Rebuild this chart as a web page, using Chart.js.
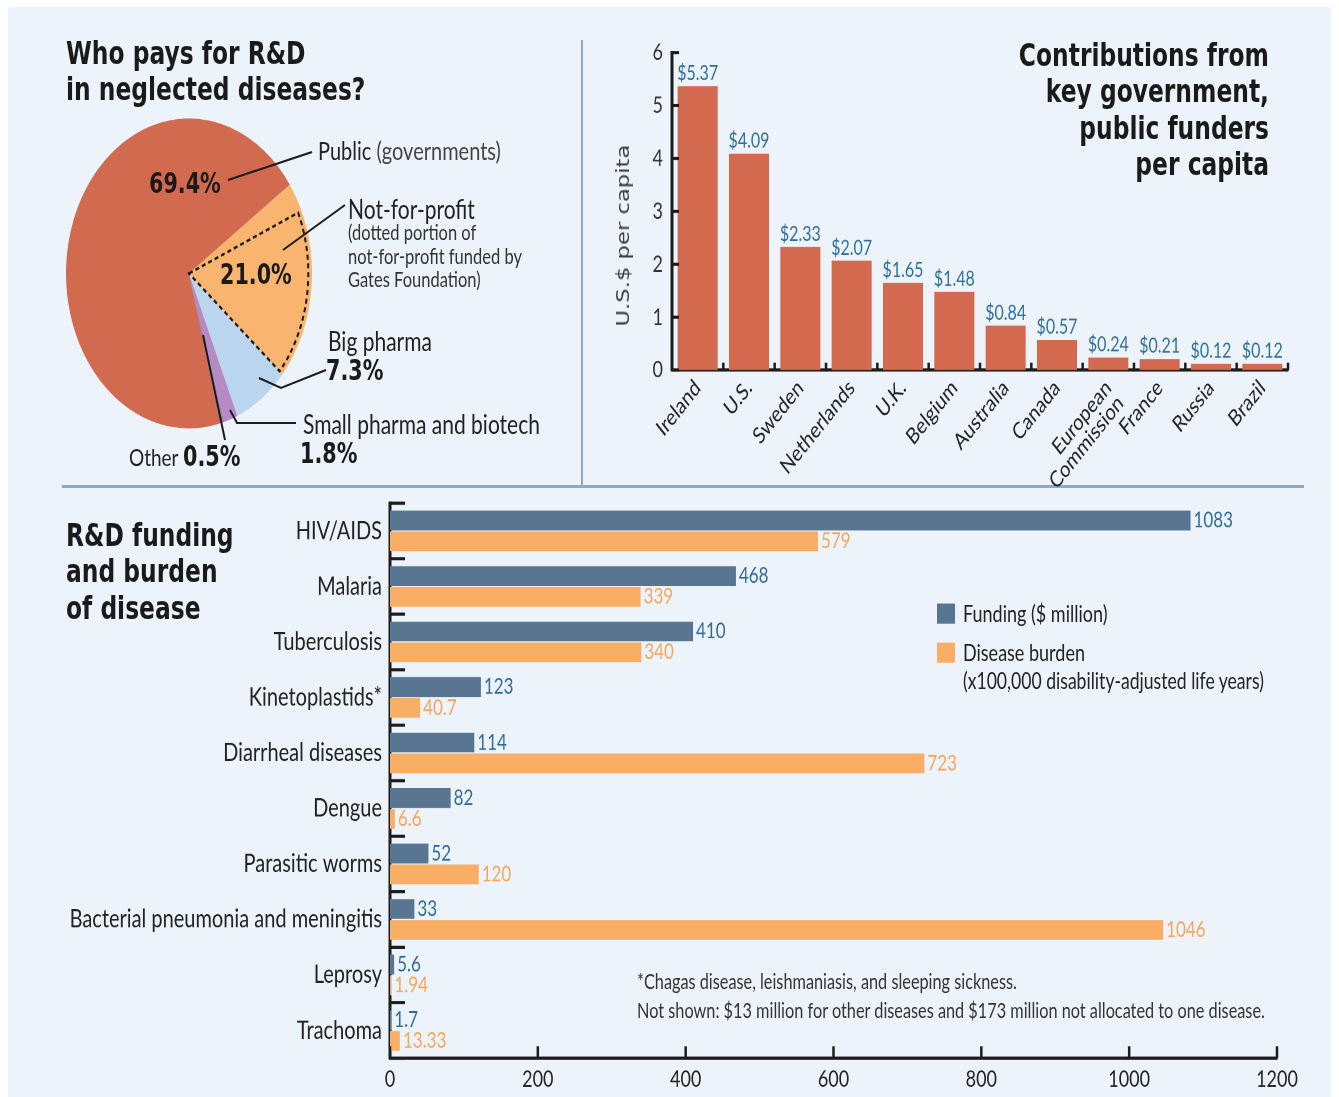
<!DOCTYPE html>
<html>
<head>
<meta charset="utf-8">
<script src="https://cdn.jsdelivr.net/npm/chart.js@4.4.0/dist/chart.umd.min.js"></script>
<style>
  :root { --s: 1.26; }
  html, body { margin: 0; padding: 0; background: #fff; width: 1339px; height: 1097px; overflow: hidden; }
  #panel { position: absolute; left: 8px; top: 7px; width: 1323px; height: 1090px; background: #edf3fa; }
  .rule { position: absolute; background: #8fa8c3; }
  #stage {
    position: absolute; left: 0; top: 0; width: 1339px; height: calc(1097px / var(--s));
    transform: scaleY(var(--s)); transform-origin: 0 0;
    font-family: Lato, 'Liberation Sans', sans-serif; color: #222;
  }
  .box { position: absolute; }
  .t { position: absolute; white-space: nowrap; line-height: 1; transform: translateY(-50%); }
  .head { position: absolute; white-space: nowrap; font-family: 'DejaVu Sans Condensed', 'DejaVu Sans', sans-serif;
          font-weight: bold; font-size: 26px; line-height: 28.8px; color: #1a1a1a; }
  .pct { font-family: 'DejaVu Sans Condensed', 'DejaVu Sans', sans-serif; font-weight: bold; font-size: 23px; color: #1a1a1a; }
  .lbl { font-size: 21px; }
  .small { font-size: 16.5px; color: #333; }
  .sw { position: absolute; width: 18px; }
  svg { position: absolute; left: 0; top: 0; }
</style>
</head>
<body>
<div id="panel"></div>
<div class="rule" style="left:581px; top:40px; width:2px; height:447px;"></div>
<div class="rule" style="left:62px; top:485px; width:1242px; height:3px;"></div>

<div id="stage">
  <!-- pie -->
  <div class="box" style="left:66px; top:calc(273px / var(--s) - 123px); width:246px; height:246px;"><canvas id="pie"></canvas></div>

  <div class="head" style="left:66px; top:calc(53px / var(--s) - 14.4px);">Who pays for R&amp;D<br>in neglected diseases?</div>

  <div class="t pct" style="left:149px; top:calc(184px / var(--s));">69.4%</div>
  <div class="t pct" style="left:220px; top:calc(275px / var(--s));">21.0%</div>
  <div class="t lbl" style="left:318px; top:calc(150px / var(--s)); font-size:20px;">Public <span style="color:#444">(governments)</span></div>
  <div class="t lbl" style="left:348px; top:calc(208px / var(--s));">Not-for-profit</div>
  <div class="t small" style="left:348px; top:calc(233px / var(--s));">(dotted portion of</div>
  <div class="t small" style="left:348px; top:calc(257px / var(--s));">not-for-profit funded by</div>
  <div class="t small" style="left:348px; top:calc(280px / var(--s));">Gates Foundation)</div>
  <div class="t lbl" style="left:328px; top:calc(340px / var(--s));">Big pharma</div>
  <div class="t pct" style="left:326px; top:calc(370px / var(--s));">7.3%</div>
  <div class="t lbl" style="left:303px; top:calc(423px / var(--s));">Small pharma and biotech</div>
  <div class="t pct" style="left:300px; top:calc(453px / var(--s));">1.8%</div>
  <div class="t lbl" style="left:129px; top:calc(456px / var(--s)); font-size:19px;">Other <span class="pct">0.5%</span></div>

  <!-- per capita bars -->
  <div class="box" style="left:598px; top:calc(28px / var(--s)); width:702px; height:calc(467px / var(--s));"><canvas id="perCapita"></canvas></div>
  <div class="head" style="right:calc(1339px - 1269px); top:calc(55px / var(--s) - 14.4px); text-align:right;">Contributions from<br>key government,<br>public funders<br>per capita</div>
  <div class="t" style="left:623px; top:calc(235px / var(--s)); font-family:'DejaVu Sans', sans-serif; font-size:18px; color:#3a3a3a; transform:translate(-50%,-50%) rotate(-90deg);">U.S.$ per capita</div>

  <!-- funding vs burden -->
  <div class="box" style="left:50px; top:calc(495px / var(--s)); width:1262px; height:calc(600px / var(--s));"><canvas id="burden"></canvas></div>
  <div class="head" style="left:66px; top:calc(535px / var(--s) - 14.4px);">R&amp;D funding<br>and burden<br>of disease</div>

  <div class="sw" style="left:937px; top:calc(604px / var(--s)); height:calc(20px / var(--s)); background:#587591;"></div>
  <div class="sw" style="left:937px; top:calc(643px / var(--s)); height:calc(20px / var(--s)); background:#f9ae66;"></div>
  <div class="t" style="left:963px; top:calc(614px / var(--s)); font-size:18px;">Funding ($ million)</div>
  <div class="t" style="left:963px; top:calc(653px / var(--s)); font-size:18px;">Disease burden</div>
  <div class="t" style="left:963px; top:calc(682px / var(--s)); font-size:17.6px;">(x100,000 disability-adjusted life years)</div>

  <div class="t" style="left:637px; top:calc(982px / var(--s)); font-size:16.3px; color:#333;">*Chagas disease, leishmaniasis, and sleeping sickness.</div>
  <div class="t" style="left:637px; top:calc(1011px / var(--s)); font-size:16.3px; color:#333;">Not shown: $13 million for other diseases and $173 million not allocated to one disease.</div>
</div>

<svg width="1339" height="1097">
  <g stroke="#1c1c1c" stroke-width="2" fill="none">
    <polyline points="228,180 312,152"/>
    <polyline points="283,250 345,205"/>
    <polyline points="259,378 281,388 326,370"/>
    <polyline points="230,410 237,423 296,423"/>
    <polyline points="203,335 225,440"/>
  </g>
</svg>

<script>
// vertical stretch of the original picture
const S = 1.26;

// pie: who pays
const pieLabels = ['Not-for-profit', 'Big pharma', 'Small pharma and biotech', 'Other', 'Public (governments)'];
const pieShares = [21.0, 7.3, 1.8, 0.5, 69.4];
const gatesShare = 17.9; // dotted part of not-for-profit

// per capita contributions
const countries = ['Ireland', 'U.S.', 'Sweden', 'Netherlands', 'U.K.', 'Belgium', 'Australia', 'Canada',
  ['European', 'Commission'], 'France', 'Russia', 'Brazil'];
const perCapita = [5.37, 4.09, 2.33, 2.07, 1.65, 1.48, 0.84, 0.57, 0.24, 0.21, 0.12, 0.12];
const perCapitaMax = 6;

// funding and burden
const diseases = ['HIV/AIDS', 'Malaria', 'Tuberculosis', 'Kinetoplastids*', 'Diarrheal diseases', 'Dengue',
  'Parasitic worms', 'Bacterial pneumonia and meningitis', 'Leprosy', 'Trachoma'];
const funding = [1083, 468, 410, 123, 114, 82, 52, 33, 5.6, 1.7];
const burden = [579, 339, 340, 40.7, 723, 6.6, 120, 1046, 1.94, 13.33];
const fundingMax = 1200;
const fundingStep = 200;

const FONT = "Lato, 'Liberation Sans', sans-serif";
Chart.defaults.font.family = FONT;
Chart.defaults.color = '#222';
Chart.defaults.animation = false;

const gatesDash = {
  id: 'gatesDash',
  afterDatasetsDraw(chart, args, opts) {
    const ctx = chart.ctx;
    const arc = chart.getDatasetMeta(0).data[0];
    const {x, y, endAngle, outerRadius} = arc.getProps(['x', 'y', 'endAngle', 'outerRadius'], true);
    const start = endAngle - opts.share / 100 * Math.PI * 2;
    const r = outerRadius * 0.97;
    ctx.save();
    ctx.setLineDash([4, 3]);
    ctx.lineWidth = 2;
    ctx.strokeStyle = '#1c1c1c';
    ctx.beginPath();
    ctx.moveTo(x, y);
    ctx.lineTo(x + r * Math.cos(start), y + r * Math.sin(start));
    ctx.arc(x, y, r, start, endAngle);
    ctx.closePath();
    ctx.stroke();
    ctx.restore();
  }
};

const barValues = {
  id: 'barValues',
  afterDatasetsDraw(chart, args, opts) {
    const ctx = chart.ctx;
    const horiz = chart.options.indexAxis === 'y';
    chart.data.datasets.forEach((ds, di) => {
      const meta = chart.getDatasetMeta(di);
      ctx.save();
      ctx.fillStyle = opts.colors[di];
      ctx.font = opts.size + 'px ' + FONT;
      meta.data.forEach((bar, i) => {
        const text = opts.format(ds.data[i]);
        if (horiz) {
          ctx.textAlign = 'left';
          ctx.textBaseline = 'middle';
          ctx.fillText(text, bar.x + opts.offset, bar.y);
        } else {
          ctx.textAlign = 'center';
          ctx.textBaseline = 'bottom';
          ctx.fillText(text, bar.x, bar.y - opts.offset);
        }
      });
      ctx.restore();
    });
  }
};

// tick marks drawn inside the plot, like the original
const innerTicks = {
  id: 'innerTicks',
  afterDraw(chart, args, opts) {
    const ctx = chart.ctx;
    const a = chart.chartArea;
    ctx.save();
    ctx.strokeStyle = '#1c1c1c';
    opts.marks.forEach(m => {
      const sc = chart.scales[m.scale];
      const hz = sc.isHorizontal();
      let pos = [];
      if (m.boundaries) {
        const n = sc.ticks.length;
        for (let i = 0; i <= n; i++) pos.push(hz ? sc.left + i * sc.width / n : sc.top + i * sc.height / n);
      } else {
        pos = sc.ticks.map((t, i) => sc.getPixelForTick(i));
      }
      ctx.lineWidth = m.width;
      pos.forEach(p => {
        ctx.beginPath();
        if (hz) { ctx.moveTo(p, a.bottom); ctx.lineTo(p, a.bottom - m.len); }
        else { ctx.moveTo(a.left, p); ctx.lineTo(a.left + m.len, p); }
        ctx.stroke();
      });
    });
    ctx.restore();
  }
};

new Chart(document.getElementById('pie'), {
  type: 'pie',
  data: {
    labels: pieLabels,
    datasets: [{
      data: pieShares,
      backgroundColor: ['#f9b46f', '#bad5ee', '#b68bc3', '#9c7fae', '#d26a4f'],
      borderWidth: 0
    }]
  },
  options: {
    responsive: true,
    maintainAspectRatio: false,
    devicePixelRatio: 2,
    rotation: 55,
    plugins: {
      legend: { display: false },
      tooltip: { enabled: false },
      gatesDash: { share: gatesShare }
    }
  },
  plugins: [gatesDash]
});

new Chart(document.getElementById('perCapita'), {
  type: 'bar',
  data: {
    labels: countries,
    datasets: [{
      data: perCapita,
      backgroundColor: '#d3694f',
      barPercentage: 0.78,
      categoryPercentage: 1
    }]
  },
  options: {
    responsive: true,
    maintainAspectRatio: false,
    devicePixelRatio: 2,
    layout: { padding: { top: (52 - 28) / S, right: 12, left: 0, bottom: 0 } },
    plugins: {
      legend: { display: false },
      tooltip: { enabled: false },
      barValues: { colors: ['#2f6f9c'], size: 16, offset: 2, format: v => '$' + v.toFixed(2) },
      innerTicks: { marks: [
        { scale: 'y', len: 7, width: 2.5 },
        { scale: 'x', len: 6, width: 2.5, boundaries: true }
      ] }
    },
    scales: {
      x: {
        grid: { display: false, drawTicks: false },
        border: { display: true, color: '#1c1c1c', width: 2.5 },
        ticks: { autoSkip: false, maxRotation: 45, minRotation: 45, padding: 5,
                 font: { size: 18, lineHeight: 0.95 }, color: '#222' },
        afterFit: s => { s.height = (495 - 370) / S; s.paddingLeft = 0; s.paddingRight = 0; }
      },
      y: {
        min: 0,
        max: perCapitaMax,
        grid: { display: false, drawTicks: false },
        border: { display: true, color: '#1c1c1c', width: 3 },
        ticks: { stepSize: 1, padding: 9, font: { size: 18 }, color: '#333' },
        afterFit: s => { s.width = 672 - 598; }
      }
    }
  },
  plugins: [barValues, innerTicks]
});

new Chart(document.getElementById('burden'), {
  type: 'bar',
  data: {
    labels: diseases,
    datasets: [
      { label: 'Funding ($ million)', data: funding, backgroundColor: '#587591', barPercentage: 0.95, categoryPercentage: 0.75 },
      { label: 'Disease burden', data: burden, backgroundColor: '#f9ae66', barPercentage: 0.95, categoryPercentage: 0.75 }
    ]
  },
  options: {
    indexAxis: 'y',
    responsive: true,
    maintainAspectRatio: false,
    devicePixelRatio: 2,
    layout: { padding: { top: (503 - 495) / S, right: 1312 - 1277, left: 0, bottom: 0 } },
    plugins: {
      legend: { display: false },
      tooltip: { enabled: false },
      barValues: { colors: ['#2e6c99', '#f6a65b'], size: 17, offset: 3, format: v => String(v) },
      innerTicks: { marks: [
        { scale: 'y', len: 15, width: 2.5, boundaries: true },
        { scale: 'x', len: 12 / S, width: 2.5 }
      ] }
    },
    scales: {
      x: {
        min: 0,
        max: fundingMax,
        grid: { display: false, drawTicks: false },
        border: { display: true, color: '#1c1c1c', width: 2.5 },
        ticks: { stepSize: fundingStep, padding: 6, font: { size: 18 }, color: '#222', callback: v => String(v) },
        afterFit: s => { s.height = (1095 - 1058) / S; s.paddingLeft = 0; s.paddingRight = 0; }
      },
      y: {
        grid: { display: false, drawTicks: false },
        border: { display: true, color: '#1c1c1c', width: 3 },
        ticks: { autoSkip: false, padding: 8, font: { size: 20 }, color: '#222' },
        afterFit: s => { s.width = 390 - 50; s.paddingTop = 0; s.paddingBottom = 0; }
      }
    }
  },
  plugins: [barValues, innerTicks]
});
</script>
</body>
</html>
